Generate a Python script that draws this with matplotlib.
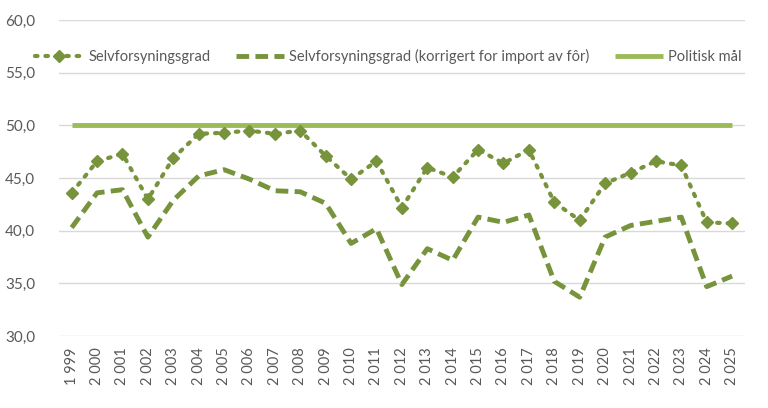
import matplotlib
matplotlib.use("Agg")
import matplotlib.pyplot as plt
import numpy as np

years = ["1 999", "2 000", "2 001", "2 002", "2 003", "2 004", "2 005", "2 006", "2 007",
         "2 008", "2 009", "2 010", "2 011", "2 012", "2 013", "2 014", "2 015", "2 016",
         "2 017", "2 018", "2 019", "2 020", "2 021", "2 022", "2 023", "2 024", "2 025"]
selvforsyning = [43.6, 46.6, 47.3, 43.0, 46.9, 49.2, 49.3, 49.5, 49.2, 49.5, 47.1, 44.9, 46.6,
                 42.2, 46.0, 45.1, 47.7, 46.4, 47.7, 42.7, 41.0, 44.5, 45.5, 46.6, 46.2, 40.8, 40.7]
korrigert = [40.3, 43.6, 43.9, 39.4, 42.9, 45.2, 45.8, 44.9, 43.8, 43.7, 42.6, 38.8, 40.2,
             34.9, 38.3, 37.2, 41.3, 40.8, 41.5, 35.2, 33.7, 39.4, 40.5, 40.9, 41.3, 34.7, 35.7]
maal = [50.0] * len(years)

labels = ["Selvforsyningsgrad", "Selvforsyningsgrad (korrigert for import av fôr)", "Politisk mål"]

plt.rcParams['font.family'] = ['Lato', 'DejaVu Sans']
txt = '#595959'
dark = '#77933C'
light = '#9BBB59'

fig = plt.figure(figsize=(7.68, 4.08), dpi=100)
ax = fig.add_axes([0.0768, 0.176, 0.893, 0.775])
x = np.arange(len(years))

l1, = ax.plot(x, selvforsyning, color=dark, lw=3, linestyle=(0, (0.6, 1.9)),
              dash_capstyle='round', marker='D', markersize=6, zorder=3)
l2, = ax.plot(x, korrigert, color=dark, lw=3.5, linestyle=(0, (2.6, 1.3)), zorder=3)
l3, = ax.plot(x, maal, color=light, lw=3.5, solid_capstyle='butt', zorder=2)

ax.set_xlim(-0.5, len(years) - 0.5)
ax.set_ylim(30, 60)
ax.set_yticks(np.arange(30, 61, 5))
ax.set_yticklabels([f"{v:.1f}".replace('.', ',') for v in np.arange(30, 61, 5)])
ax.set_xticks(x)
ax.set_xticklabels(years, rotation=90)
ax.tick_params(axis='y', length=0, pad=17, labelsize=11, labelcolor=txt)
ax.tick_params(axis='x', length=0, pad=8, labelsize=10.5, labelcolor=txt)
ax.grid(axis='y', color='#D9D9D9', lw=1)
ax.set_axisbelow(True)
for s in ax.spines.values():
    s.set_visible(False)

fig.legend([l1, l2, l3], labels, loc='center left', bbox_to_anchor=(0.028, 0.862), ncol=3,
           frameon=False, fontsize=10.5, labelcolor=txt, handlelength=3.3,
           columnspacing=1.7, handletextpad=0.4)

fig.savefig("out.png", dpi=100)
